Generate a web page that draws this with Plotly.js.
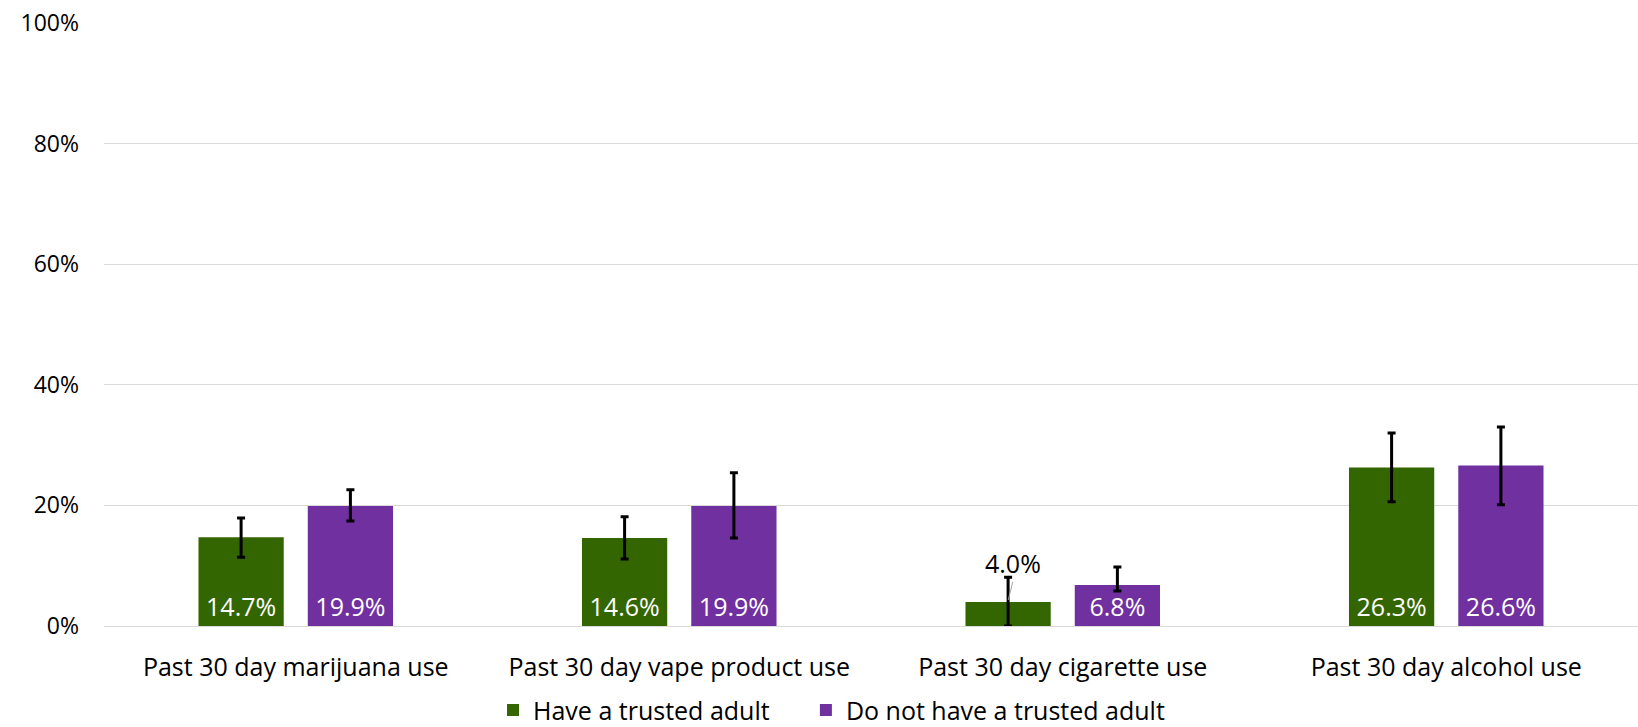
<!DOCTYPE html>
<html>
<head>
<meta charset="utf-8">
<script src="https://cdn.plot.ly/plotly-3.0.1.min.js"></script>
<style>html,body{margin:0;padding:0;background:#fff;}#chart{width:1638px;height:727px;}</style>
</head>
<body>
<div id="chart"></div>
<script>
const categories = ["Past 30 day marijuana use", "Past 30 day vape product use", "Past 30 day cigarette use", "Past 30 day alcohol use"];
const seriesNames = ["Have a trusted adult", "Do not have a trusted adult"];
const trustedValues = [14.7, 14.6, 4.0, 26.3];
const trustedUpper = [17.9, 18.1, 8.1, 32.0];
const trustedLower = [11.4, 11.1, 0.0, 20.6];
const noTrustedValues = [19.9, 19.9, 6.8, 26.6];
const noTrustedUpper = [22.6, 25.4, 9.8, 33.0];
const noTrustedLower = [17.4, 14.6, 5.8, 20.1];
const yTicks = [0, 20, 40, 60, 80, 100];

const FONT = "'Open Sans', sans-serif";
const FS = 25;
const colors = ["#336600", "#7030A0"];

function labels(vals){ return vals.map(v => v.toFixed(1) + "%"); }
const trustedPos = trustedValues.map(v => v < 5 ? "none" : "inside");
const noTrustedPos = noTrustedValues.map(v => "inside");

function bar(name, vals, up, lo, color, pos, legendId){
  return {
    type: "bar", name: name, x: categories, y: vals, legend: legendId,
    marker: {color: color},
    text: labels(vals), textposition: pos, insidetextanchor: "start",
    textfont: {family: FONT, size: FS, color: "#ffffff"},
    constraintext: "none", cliponaxis: false,
    hoverinfo: "skip",
    error_y: {type: "data", symmetric: false,
      array: up.map((u,i) => u - vals[i]),
      arrayminus: lo.map((l,i) => vals[i] - l),
      color: "#000000", thickness: 3, width: 4}
  };
}

const data = [
  bar(seriesNames[0], trustedValues, trustedUpper, trustedLower, colors[0], trustedPos, "legend"),
  bar(seriesNames[1], noTrustedValues, noTrustedUpper, noTrustedLower, colors[1], noTrustedPos, "legend2")
];

const annotations = [];
trustedValues.forEach((v,i) => {
  if (trustedPos[i] === "none") {
    annotations.push({
      x: categories[i], y: v, xref: "x", yref: "y",
      text: v.toFixed(1) + "%", showarrow: true, arrowhead: 0, arrowwidth: 1,
      arrowcolor: "#a6a6a6", ax: 5, ay: -20, xshift: -55, standoff: 2,
      yanchor: "bottom",
      font: {family: FONT, size: FS, color: "#000000"}
    });
  }
});

const legendBase = {
  orientation: "h", xref: "container", xanchor: "left",
  yref: "container", y: 0.023, yanchor: "middle",
  font: {family: FONT, size: FS, color: "#000000"},
  itemclick: false, itemwidth: 30, bgcolor: "rgba(0,0,0,0)"
};

const layout = {
  width: 1638, height: 727,
  margin: {l: 104, r: 0, t: 23, b: 101, autoexpand: false},
  paper_bgcolor: "#ffffff", plot_bgcolor: "#ffffff",
  barmode: "group", bargap: 0.43, bargroupgap: 0.22,
  font: {family: FONT, size: FS, color: "#000000"},
  xaxis: {
    showgrid: false, showline: false, ticks: "", zeroline: false,
    ticklabelstandoff: 24, automargin: false,
    tickfont: {family: FONT, size: FS, color: "#000000"}
  },
  yaxis: {
    range: [0, 100], tickvals: yTicks, ticktext: yTicks.map(t => t + "%"),
    showgrid: true, gridcolor: "#d9d9d9", gridwidth: 1,
    zeroline: true, zerolinecolor: "#d9d9d9", zerolinewidth: 1,
    showline: false, ticks: "", ticklabelstandoff: 24, automargin: false,
    tickfont: {family: FONT, size: 23, color: "#000000"}
  },
  showlegend: true,
  legend: Object.assign({}, legendBase, {x: 0.301}),
  legend2: Object.assign({}, legendBase, {x: 0.492}),
  annotations: annotations
};

Plotly.newPlot("chart", data, layout, {displayModeBar: false, staticPlot: true});
</script>
</body>
</html>
